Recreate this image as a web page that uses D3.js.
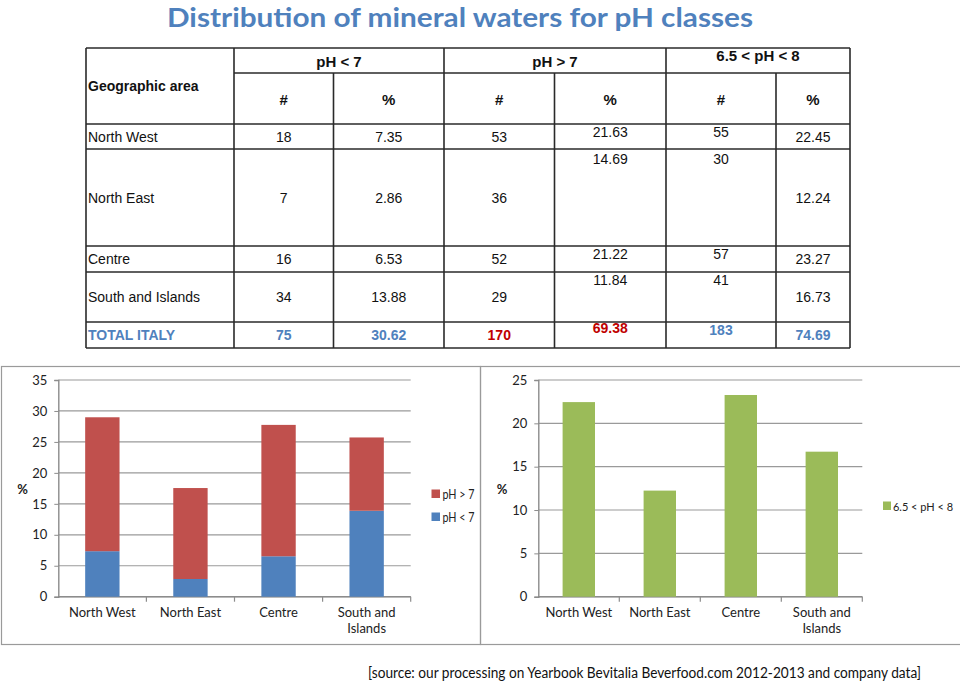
<!DOCTYPE html>
<html><head><meta charset="utf-8">
<script src="https://cdn.jsdelivr.net/npm/d3@7"></script>
<style>body{margin:0;background:#fff}svg{display:block}</style>
</head><body>
<svg id="c" width="960" height="684"></svg>
<script>
// ---- data ----
const title = "Distribution of mineral waters for pH classes";
const source = "[source: our processing on Yearbook Bevitalia Beverfood.com 2012-2013 and company data]";
const categories = ["North West", "North East", "Centre", "South and Islands"];
const phBelow7Count = [18, 7, 16, 34];
const phBelow7Pct = [7.35, 2.86, 6.53, 13.88];
const phAbove7Count = [53, 36, 52, 29];
const phAbove7Pct = [21.63, 14.69, 21.22, 11.84];
const ph65to8Count = [55, 30, 57, 41];
const ph65to8Pct = [22.45, 12.24, 23.27, 16.73];
const totalLabel = "TOTAL ITALY";
const totals = ["75", "30.62", "170", "69.38", "183", "74.69"];
const groupHeaders = ["pH < 7", "pH > 7", "6.5 < pH < 8"];
const subHeaders = ["#", "%", "#", "%", "#", "%"];
const seriesNames = ["pH > 7", "pH < 7"];
const greenName = "6.5 < pH < 8";
const leftTicks = [0, 5, 10, 15, 20, 25, 30, 35];
const rightTicks = [0, 5, 10, 15, 20, 25];

const svg = d3.select("#c");
const BLUE = "#4f81bd", RED = "#c0504d", GREEN = "#9bbb59", DARKRED = "#c00000";
const CH = "Lato, 'Open Sans', sans-serif";
const TB = "'Liberation Sans', Arial, sans-serif";

// ---- title ----
svg.append("text").attr("x", 460).attr("y", 26.5).attr("text-anchor", "middle")
  .attr("font-family", CH).attr("font-weight", "bold").attr("font-size", 26.5)
  .attr("fill", "#4f81bd").attr("textLength", 586).attr("lengthAdjust", "spacingAndGlyphs")
  .text(title);

// ---- table ----
const colX = [86, 234, 333.5, 444, 554.5, 666, 776, 850];
const rowY = [48, 73, 124, 149, 246, 272, 322, 348];
const tg = svg.append("g");
const ln = (x1, y1, x2, y2) => tg.append("line").attr("x1", x1).attr("y1", y1).attr("x2", x2).attr("y2", y2)
  .attr("stroke", "#2a2a2a").attr("stroke-width", 1.6);
ln(colX[0], rowY[0], colX[7], rowY[0]);
ln(colX[1], rowY[1], colX[7], rowY[1]);
for (let i = 2; i < rowY.length; i++) ln(colX[0], rowY[i], colX[7], rowY[i]);
[0, 1, 3, 5, 7].forEach(i => ln(colX[i], rowY[0], colX[i], rowY[7]));
[2, 4, 6].forEach(i => ln(colX[i], rowY[1], colX[i], rowY[7]));

const ttext = (x, y, s, opts = {}) => tg.append("text").attr("x", x).attr("y", y)
  .attr("dominant-baseline", "central").attr("text-anchor", opts.anchor || "middle")
  .attr("font-family", TB).attr("font-size", opts.size || 14)
  .attr("font-weight", opts.bold ? "bold" : "normal").attr("fill", opts.fill || "#111").text(s);

ttext(88, 86, "Geographic area", {anchor: "start", bold: true});
const headY = [61, 61, 55];
groupHeaders.forEach((h, i) => ttext((colX[1 + 2 * i] + colX[3 + 2 * i]) / 2, headY[i], h, {bold: true, size: 15}));
subHeaders.forEach((h, i) => ttext((colX[1 + i] + colX[2 + i]) / 2, 99, h, {bold: true, size: 15}));

const cols = [phBelow7Count, phBelow7Pct, phAbove7Count, phAbove7Pct, ph65to8Count, ph65to8Pct];
categories.forEach((c, r) => {
  const top = rowY[2 + r], bot = rowY[3 + r], mid = (top + bot) / 2;
  ttext(88, mid, c, {anchor: "start"});
  cols.forEach((arr, j) => {
    const raised = (j === 3 || j === 4);
    const y = raised ? top + (r === 1 ? 10 : 7.5) : mid;
    const v = j % 2 === 1 ? arr[r].toFixed(2) : String(arr[r]);
    ttext((colX[1 + j] + colX[2 + j]) / 2, y, v);
  });
});
{
  const top = rowY[6], mid = (rowY[6] + rowY[7]) / 2;
  ttext(88, mid, totalLabel, {anchor: "start", bold: true, fill: BLUE});
  const tc = [BLUE, BLUE, DARKRED, DARKRED, BLUE, BLUE];
  totals.forEach((t, j) => {
    const y = j === 3 ? top + 6 : j === 4 ? top + 8 : mid;
    ttext((colX[1 + j] + colX[2 + j]) / 2, y, t, {bold: true, fill: tc[j]});
  });
}

// ---- chart frames ----
svg.append("rect").attr("x", 1.5).attr("y", 366.5).attr("width", 479).attr("height", 278)
  .attr("fill", "none").attr("stroke", "#9a9a9a").attr("stroke-width", 1.2);
svg.append("rect").attr("x", 480.5).attr("y", 366.5).attr("width", 485).attr("height", 278)
  .attr("fill", "none").attr("stroke", "#9a9a9a").attr("stroke-width", 1.2);

function wrapLabel(sel, width) {
  sel.each(function () {
    const t = d3.select(this);
    const words = t.text().split(" ");
    t.text(null);
    let line = [], lines = [];
    const tmp = t.append("tspan");
    words.forEach(w => {
      line.push(w);
      tmp.text(line.join(" "));
      if (tmp.node().getComputedTextLength() > width && line.length > 1) {
        line.pop(); lines.push(line.join(" ")); line = [w];
      }
    });
    lines.push(line.join(" "));
    tmp.remove();
    lines.forEach((l, i) => t.append("tspan").attr("x", 0).attr("dy", i === 0 ? "0.71em" : "1.2em").text(l));
  });
}

function drawAxes(g, x, y, ticks, x0, x1) {
  g.selectAll(".grid").data(ticks).join("line")
    .attr("x1", x0).attr("x2", x1).attr("y1", d => y(d)).attr("y2", d => y(d))
    .attr("stroke", "#9a9a9a").attr("stroke-width", 1.2);
  const ya = d3.axisLeft(y).tickValues(ticks).tickSize(4).tickPadding(7);
  const yg = g.append("g").attr("transform", `translate(${x0},0)`).call(ya);
  yg.select(".domain").attr("stroke", "#8c8c8c").attr("stroke-width", 1.4);
  yg.selectAll(".tick line").attr("stroke", "#8c8c8c");
  yg.selectAll("text").attr("font-family", CH).attr("font-size", 13).attr("fill", "#222");
  const xa = d3.axisBottom(x).tickSize(0).tickPadding(11);
  const xg = g.append("g").attr("transform", `translate(0,${y(0)})`).call(xa);
  xg.select(".domain").remove();
  xg.selectAll("text").attr("font-family", CH).attr("font-size", 13).attr("fill", "#222")
    .call(wrapLabel, 76);
  g.append("line").attr("x1", x0).attr("x2", x1).attr("y1", y(0)).attr("y2", y(0))
    .attr("stroke", "#8c8c8c").attr("stroke-width", 1.4);
  const step = x.step();
  g.selectAll(".xt").data(d3.range(1, categories.length + 1)).join("line")
    .attr("x1", i => x0 + i * step).attr("x2", i => x0 + i * step)
    .attr("y1", y(0)).attr("y2", y(0) + 5).attr("stroke", "#8c8c8c").attr("stroke-width", 1.2);
}

// ---- left stacked chart ----
{
  const g = svg.append("g");
  const x0 = 58.3, x1 = 410.7;
  const x = d3.scaleBand().domain(categories).range([x0, x1]).paddingInner(0.61).paddingOuter(0.305);
  const y = d3.scaleLinear().domain([0, 35]).range([596.7, 380]);
  drawAxes(g, x, y, leftTicks, x0, x1);
  const rows = categories.map((c, i) => ({cat: c, low: phBelow7Pct[i], high: phAbove7Pct[i]}));
  const stack = d3.stack().keys(["low", "high"])(rows);
  const colors = {low: BLUE, high: RED};
  stack.forEach(s => {
    g.append("g").selectAll("rect").data(s).join("rect")
      .attr("x", d => x(d.data.cat)).attr("width", x.bandwidth())
      .attr("y", d => y(d[1])).attr("height", d => y(d[0]) - y(d[1]))
      .attr("fill", colors[s.key]);
  });
  g.append("text").attr("x", 22.5).attr("y", 489).attr("text-anchor", "middle").attr("dominant-baseline", "central")
    .attr("font-family", CH).attr("font-size", 13).attr("font-weight", "bold").attr("fill", "#222").text("%");
  const lg = [{n: seriesNames[0], c: RED, y: 494}, {n: seriesNames[1], c: BLUE, y: 517}];
  lg.forEach(l => {
    g.append("rect").attr("x", 431.5).attr("y", l.y - 4.5).attr("width", 8.5).attr("height", 8.5).attr("fill", l.c);
    g.append("text").attr("x", 442.5).attr("y", l.y).attr("dominant-baseline", "central")
      .attr("font-family", CH).attr("font-size", 13).attr("fill", "#222")
      .attr("textLength", 32).attr("lengthAdjust", "spacingAndGlyphs").text(l.n);
  });
}

// ---- right chart ----
{
  const g = svg.append("g");
  const x0 = 538.3, x1 = 862.3;
  const x = d3.scaleBand().domain(categories).range([x0, x1]).paddingInner(0.6).paddingOuter(0.3);
  const y = d3.scaleLinear().domain([0, 25]).range([596.7, 380]);
  drawAxes(g, x, y, rightTicks, x0, x1);
  g.append("g").selectAll("rect").data(categories).join("rect")
    .attr("x", d => x(d)).attr("width", x.bandwidth())
    .attr("y", (d, i) => y(ph65to8Pct[i])).attr("height", (d, i) => y(0) - y(ph65to8Pct[i]))
    .attr("fill", GREEN);
  g.append("text").attr("x", 502).attr("y", 489).attr("text-anchor", "middle").attr("dominant-baseline", "central")
    .attr("font-family", CH).attr("font-size", 13).attr("font-weight", "bold").attr("fill", "#222").text("%");
  g.append("rect").attr("x", 883).attr("y", 501.5).attr("width", 8).attr("height", 8.5).attr("fill", GREEN);
  g.append("text").attr("x", 893).attr("y", 506).attr("dominant-baseline", "central")
    .attr("font-family", CH).attr("font-size", 12).attr("fill", "#222")
    .attr("textLength", 60).attr("lengthAdjust", "spacingAndGlyphs").text(greenName);
}

// ---- source ----
svg.append("text").attr("x", 368).attr("y", 678).attr("font-family", CH).attr("font-size", 14.5)
  .attr("fill", "#111").attr("textLength", 553).attr("lengthAdjust", "spacingAndGlyphs").text(source);
</script>
</body></html>
